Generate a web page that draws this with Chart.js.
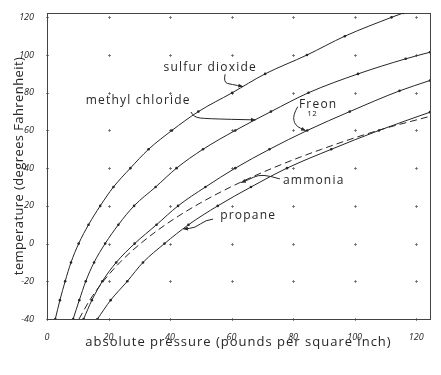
<!DOCTYPE html>
<html>
<head>
<meta charset="utf-8">
<script src="https://cdn.jsdelivr.net/npm/chart.js@4/dist/chart.umd.min.js"></script>
<style>
  html, body { margin: 0; padding: 0; background: #fff; }
  canvas { display: block; }
</style>
</head>
<body>
<canvas id="chart" width="441" height="375"></canvas>
<script>
// Absolute pressure (psi) and temperature (°F), one pair of arrays per gas
const so2Pressure = [2.7, 4.2, 5.9, 7.8, 10.3, 13.5, 17.3, 21.6, 27.1, 33.0, 40.6, 49.2, 60.2, 70.9, 84.5, 96.8, 112.0, 115.8];
const so2Temp     = [-40, -30, -20, -10, 0, 10, 20, 30, 40, 50, 60, 70, 80, 90, 100, 110, 120, 122.3];

const methylPressure = [8.5, 10.5, 12.6, 15.3, 18.9, 23.2, 28.3, 35.3, 42.1, 50.7, 61.2, 72.8, 85.0, 101.1, 116.6, 124.5];
const methylTemp     = [-40, -30, -20, -10, 0, 10, 20, 30, 40, 50, 60, 70, 80, 90, 98, 101.5];

const freonPressure = [11.9, 14.6, 18.0, 22.5, 28.5, 35.6, 42.6, 51.5, 61.2, 72.3, 84.6, 98.4, 114.6, 124.5];
const freonTemp     = [-40, -30, -20, -10, 0, 10, 20, 30, 40, 50, 60, 70, 81, 86.5];

const ammoniaPressure = [10.4, 13.9, 18.3, 23.7, 30.4, 38.5, 48.2, 59.7, 73.3, 89.2, 107.6, 124.5];
const ammoniaTemp     = [-40, -30, -20, -10, 0, 10, 20, 30, 40, 50, 60, 67.5];

const propanePressure = [16.4, 20.7, 26.1, 31.2, 38.2, 46.0, 55.5, 66.3, 78.0, 92.4, 107.9, 124.5];
const propaneTemp     = [-40, -30, -20, -10, 0, 10, 20, 30, 40, 50, 60, 69.7];

// tick values (the dotted grid sits on these)
const xTicks = [0, 20, 40, 60, 80, 100, 120];
const yTicks = [-40, -20, 0, 20, 40, 60, 80, 100, 120];

const xTitle = 'absolute pressure (pounds per square inch)';
const yTitle = 'temperature (degrees Fahrenheit)';

// hand-lettered labels and their pointer arrows, in data units
const labels = [
    { text: 'sulfur dioxide', x: 37.9, y: 93.2 },
    { text: 'methyl chloride', x: 12.6, y: 75.6 },
    { text: 'Freon', x: 81.9, y: 73.5 },
    { text: 'ammonia', x: 76.7, y: 33.2 },
    { text: 'propane', x: 56.3, y: 14.6 }
];
const arrows = [
    [[57.9, 89.8], [57.3, 85.4], [60.2, 84.4], [63.7, 83.3]],
    [[46.8, 69.8], [47.6, 67.0], [52.0, 66.2], [67.8, 65.6]],
    [[81.5, 72.6], [79.9, 68.2], [80.6, 62.6], [84.1, 59.9]],
    [[75.7, 34.3], [72.5, 35.9], [68.6, 36.4], [65.4, 33.8], [63.1, 32.4]],
    [[54.0, 13.0], [51.5, 12.5], [48.2, 8.3], [44.3, 7.8]]
];

const ink = '#262626';
const letterFont = '"Open Sans", "DejaVu Sans", sans-serif';

function toPoints(xs, ys) {
    return xs.map((x, i) => ({ x: x, y: ys[i] }));
}

function curve(label, xs, ys, dashed) {
    return {
        label: label,
        data: toPoints(xs, ys),
        borderColor: ink,
        borderWidth: 1,
        borderDash: dashed ? [7, 4] : [],
        backgroundColor: ink,
        pointRadius: dashed ? 0 : 1.3,
        pointBorderWidth: 0,
        cubicInterpolationMode: 'monotone',
        fill: false
    };
}

// frame round the plot plus the little + marks where grid lines would cross
const framePlugin = {
    id: 'frame',
    beforeDatasetsDraw(chart) {
        const { ctx, chartArea, scales } = chart;
        ctx.save();
        ctx.strokeStyle = '#666';
        ctx.lineWidth = 0.8;
        xTicks.forEach(xv => {
            yTicks.forEach(yv => {
                const px = Math.round(scales.x.getPixelForValue(xv)) + 0.5;
                const py = Math.round(scales.y.getPixelForValue(yv)) + 0.5;
                ctx.beginPath();
                ctx.moveTo(px - 1.5, py);
                ctx.lineTo(px + 1.5, py);
                ctx.moveTo(px, py - 1.5);
                ctx.lineTo(px, py + 1.5);
                ctx.stroke();
            });
        });
        ctx.strokeStyle = '#444';
        ctx.lineWidth = 1;
        ctx.strokeRect(chartArea.left + 0.5, chartArea.top + 0.5,
            chartArea.right - chartArea.left, chartArea.bottom - chartArea.top);

        // axis titles, drawn here so the letters can be spaced out like the lettering
        ctx.fillStyle = ink;
        ctx.font = '13px ' + letterFont;
        ctx.textAlign = 'center';
        ctx.textBaseline = 'middle';
        ctx.letterSpacing = '1px';
        ctx.fillText(xTitle, (chartArea.left + chartArea.right) / 2, 342);
        ctx.letterSpacing = '0.4px';
        ctx.translate(19, (chartArea.top + chartArea.bottom) / 2);
        ctx.rotate(-Math.PI / 2);
        ctx.fillText(yTitle, 0, 0);
        ctx.restore();
    }
};

const notesPlugin = {
    id: 'notes',
    afterDatasetsDraw(chart) {
        const { ctx, scales } = chart;
        const px = v => scales.x.getPixelForValue(v);
        const py = v => scales.y.getPixelForValue(v);
        ctx.save();
        ctx.fillStyle = ink;
        ctx.textBaseline = 'middle';
        ctx.textAlign = 'left';
        ctx.font = '12px ' + letterFont;
        ctx.letterSpacing = '1.2px';
        labels.forEach(l => ctx.fillText(l.text, px(l.x), py(l.y)));
        // the "12" under Freon
        ctx.font = '8px ' + letterFont;
        ctx.letterSpacing = '0.5px';
        ctx.fillText('12', px(84.6), py(69.0));

        ctx.strokeStyle = ink;
        ctx.lineWidth = 1;
        arrows.forEach(path => {
            const pts = path.map(p => [px(p[0]), py(p[1])]);
            ctx.beginPath();
            ctx.moveTo(pts[0][0], pts[0][1]);
            for (let i = 1; i < pts.length - 1; i++) {
                const mx = (pts[i][0] + pts[i + 1][0]) / 2;
                const my = (pts[i][1] + pts[i + 1][1]) / 2;
                ctx.quadraticCurveTo(pts[i][0], pts[i][1], mx, my);
            }
            const end = pts[pts.length - 1];
            const prev = pts[pts.length - 2];
            ctx.lineTo(end[0], end[1]);
            ctx.stroke();
            // arrow head
            const a = Math.atan2(end[1] - prev[1], end[0] - prev[0]);
            ctx.beginPath();
            ctx.moveTo(end[0], end[1]);
            ctx.lineTo(end[0] - 5 * Math.cos(a - 0.4), end[1] - 5 * Math.sin(a - 0.4));
            ctx.lineTo(end[0] - 5 * Math.cos(a + 0.4), end[1] - 5 * Math.sin(a + 0.4));
            ctx.closePath();
            ctx.fill();
        });
        ctx.restore();
    }
};

new Chart(document.getElementById('chart').getContext('2d'), {
    type: 'line',
    data: {
        datasets: [
            curve('sulfur dioxide', so2Pressure, so2Temp, false),
            curve('methyl chloride', methylPressure, methylTemp, false),
            curve('Freon 12', freonPressure, freonTemp, false),
            curve('ammonia', ammoniaPressure, ammoniaTemp, true),
            curve('propane', propanePressure, propaneTemp, false)
        ]
    },
    options: {
        responsive: false,
        animation: false,
        devicePixelRatio: 1,
        layout: { padding: { top: 13, right: 11, left: 0, bottom: 0 } },
        plugins: {
            legend: { display: false },
            tooltip: { enabled: false }
        },
        scales: {
            x: {
                type: 'linear',
                min: 0,
                max: 124.5,
                grid: { display: false },
                border: { display: false },
                afterBuildTicks: s => { s.ticks = xTicks.map(v => ({ value: v })); },
                ticks: {
                    autoSkip: false,
                    maxRotation: 0,
                    padding: 5,
                    color: ink,
                    font: { family: letterFont, size: 9, style: 'italic' }
                },
                afterFit: s => { s.height = 56; }
            },
            y: {
                type: 'linear',
                min: -40,
                max: 122.3,
                grid: { display: false },
                border: { display: false },
                afterBuildTicks: s => { s.ticks = yTicks.map(v => ({ value: v })); },
                ticks: {
                    autoSkip: false,
                    padding: 5,
                    color: ink,
                    font: { family: letterFont, size: 9, style: 'italic' }
                },
                afterFit: s => { s.width = 47; }
            }
        }
    },
    plugins: [framePlugin, notesPlugin]
});
</script>
</body>
</html>
